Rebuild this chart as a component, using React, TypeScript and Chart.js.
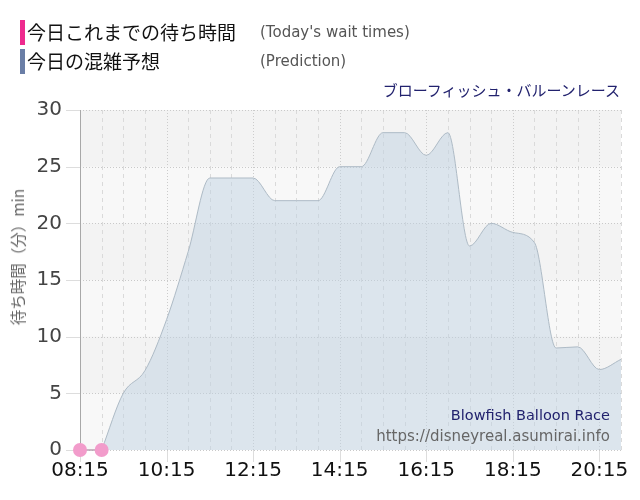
import React, { useEffect, useRef } from 'react';
import { Chart, registerables } from 'chart.js';

Chart.register(...registerables);

// time helpers: "HH:MM" -> minutes since midnight
const toMin = (t: string) => {
  const [h, m] = t.split(':').map(Number);
  return h * 60 + m;
};

const xStart = '08:15';
const xEnd = '20:45';
const xTickLabels = ['08:15', '10:15', '12:15', '14:15', '16:15', '18:15', '20:15'];
const yTicks = [0, 5, 10, 15, 20, 25, 30];

// today's actual wait times
const actualTimes = ['08:15', '08:45'];
const actualValues = [0, 0];

// prediction
const predictionTimes = [
  '08:45', '09:15', '09:45', '10:15', '10:45', '11:15', '11:45', '12:15', '12:45',
  '13:15', '13:45', '14:15', '14:45', '15:15', '15:45', '16:15', '16:45', '17:15',
  '17:45', '18:15', '18:45', '19:15', '19:45', '20:15', '20:45',
];
const predictionValues = [
  0, 5, 7, 11.5, 17.5, 24, 24, 24, 22,
  22, 22, 25, 25, 28, 28, 26, 28, 18,
  20, 19.2, 18.3, 9, 9.1, 7.1, 8,
];

const stripeBands = [[0, 5], [10, 15], [20, 25]];

const cjk = '"Noto Sans CJK JP", "Noto Sans", sans-serif';
const latin = '"DejaVu Sans", Verdana, sans-serif';

const backdropPlugin = {
  id: 'backdrop',
  beforeDatasetsDraw(chart: any) {
    const { ctx, chartArea: a, scales } = chart;
    const x = scales.x;
    const y = scales.y;
    ctx.save();
    ctx.fillStyle = '#f3f3f3';
    ctx.fillRect(a.left, a.top, a.width, a.height);
    ctx.fillStyle = '#f8f8f8';
    stripeBands.forEach(([lo, hi]) => {
      const y1 = y.getPixelForValue(hi);
      const y2 = y.getPixelForValue(lo);
      ctx.fillRect(a.left, y1, a.width, y2 - y1);
    });

    ctx.lineWidth = 1;
    const labelMins = xTickLabels.map(toMin);
    for (let m = toMin(xStart); m <= toMin(xEnd); m += 30) {
      const px = Math.round(x.getPixelForValue(m)) + 0.5;
      if (labelMins.includes(m)) {
        ctx.strokeStyle = '#cccccc';
        ctx.setLineDash([1, 2]);
        ctx.beginPath();
        ctx.moveTo(px, a.top);
        ctx.lineTo(px, a.bottom);
        ctx.stroke();
        ctx.setLineDash([]);
        ctx.strokeStyle = '#dddddd';
        ctx.beginPath();
        ctx.moveTo(px, a.bottom);
        ctx.lineTo(px, a.bottom + 12);
        ctx.stroke();
      } else if (m !== toMin(xStart)) {
        ctx.strokeStyle = '#dadada';
        ctx.setLineDash([4, 4]);
        ctx.beginPath();
        ctx.moveTo(px, a.top);
        ctx.lineTo(px, a.bottom);
        ctx.stroke();
      }
    }

    yTicks.forEach((v) => {
      const py = Math.round(y.getPixelForValue(v)) + 0.5;
      ctx.strokeStyle = '#c9c9c9';
      ctx.setLineDash([1, 2]);
      ctx.beginPath();
      ctx.moveTo(a.left, py);
      ctx.lineTo(a.right, py);
      ctx.stroke();
      ctx.setLineDash([]);
      ctx.strokeStyle = '#dddddd';
      ctx.beginPath();
      ctx.moveTo(a.left - 14, py);
      ctx.lineTo(a.left, py);
      ctx.stroke();
    });

    ctx.setLineDash([]);
    ctx.strokeStyle = '#a8a8a8';
    ctx.beginPath();
    ctx.moveTo(a.left + 0.5, a.top);
    ctx.lineTo(a.left + 0.5, a.bottom);
    ctx.stroke();
    ctx.restore();
  },
};

const App: React.FC = () => {
  const canvasRef = useRef<HTMLCanvasElement>(null);
  const chartRef = useRef<Chart | null>(null);

  useEffect(() => {
    if (!canvasRef.current) return;
    if (chartRef.current) chartRef.current.destroy();

    chartRef.current = new Chart(canvasRef.current, {
      type: 'line',
      data: {
        datasets: [
          {
            label: '今日これまでの待ち時間',
            data: actualTimes.map((t, i) => ({ x: toMin(t), y: actualValues[i] })),
            borderColor: '#b9a2b0',
            borderWidth: 1.5,
            pointRadius: 7,
            pointBackgroundColor: '#f29ccb',
            pointBorderWidth: 0,
            fill: false,
            clip: false,
          },
          {
            label: '今日の混雑予想',
            data: predictionTimes.map((t, i) => ({ x: toMin(t), y: predictionValues[i] })),
            borderColor: '#aebbc6',
            borderWidth: 1,
            backgroundColor: 'rgba(191, 209, 225, 0.5)',
            fill: 'origin',
            pointRadius: 0,
            cubicInterpolationMode: 'monotone',
          },
        ],
      },
      options: {
        responsive: false,
        animation: false,
        layout: { padding: { top: 110, right: 19, left: 0, bottom: 0 } },
        plugins: {
          legend: { display: false },
          tooltip: { enabled: false },
        },
        scales: {
          x: {
            type: 'linear',
            min: toMin(xStart),
            max: toMin(xEnd),
            grid: { display: false, drawTicks: false },
            border: { display: false },
            afterBuildTicks: (scale: any) => {
              scale.ticks = xTickLabels.map((t) => ({ value: toMin(t) }));
            },
            afterFit: (scale: any) => {
              scale.height = 50;
            },
            ticks: {
              autoSkip: false,
              maxRotation: 0,
              padding: 9,
              color: '#111111',
              font: { family: latin, size: 20 },
              callback: (v: any) => {
                const i = xTickLabels.findIndex((t) => toMin(t) === v);
                return i >= 0 ? xTickLabels[i] : '';
              },
            },
          },
          y: {
            min: 0,
            max: 30,
            grid: { display: false, drawTicks: false },
            border: { display: false },
            afterBuildTicks: (scale: any) => {
              scale.ticks = yTicks.map((v) => ({ value: v }));
            },
            afterFit: (scale: any) => {
              scale.width = 80;
            },
            ticks: {
              padding: 18,
              color: '#444444',
              font: { family: latin, size: 20 },
            },
          },
        },
      } as any,
      plugins: [backdropPlugin],
    });

    return () => {
      if (chartRef.current) {
        chartRef.current.destroy();
        chartRef.current = null;
      }
    };
  }, []);

  const abs = (style: React.CSSProperties): React.CSSProperties => ({ position: 'absolute', whiteSpace: 'nowrap', ...style });

  return (
    <div style={{ position: 'absolute', left: 0, top: 0, width: 640, height: 500, background: '#fff', overflow: 'hidden' }}>
      <canvas ref={canvasRef} width={640} height={500} style={{ position: 'absolute', left: 0, top: 0 }} aria-label="Blowfish Balloon Race wait times" />

      <div style={abs({ left: 20, top: 20, width: 5, height: 25, background: '#ee2a8e' })} />
      <div style={abs({ left: 27, top: 19, lineHeight: '26px', fontFamily: cjk, fontSize: 19, color: '#111' })}>今日これまでの待ち時間</div>
      <div style={abs({ left: 260, top: 19, lineHeight: '26px', fontFamily: latin, fontSize: 15, color: '#555' })}>(Today's wait times)</div>

      <div style={abs({ left: 20, top: 49, width: 5, height: 25, background: '#6a7ea6' })} />
      <div style={abs({ left: 27, top: 48, lineHeight: '26px', fontFamily: cjk, fontSize: 19, color: '#111' })}>今日の混雑予想</div>
      <div style={abs({ left: 260, top: 48, lineHeight: '26px', fontFamily: latin, fontSize: 15, color: '#555' })}>(Prediction)</div>

      <div style={abs({ right: 20, top: 79, lineHeight: '22px', fontFamily: cjk, fontSize: 15, color: '#22226e' })}>ブローフィッシュ・バルーンレース</div>

      <div style={abs({ right: 30, top: 404, lineHeight: '22px', fontFamily: latin, fontSize: 14.5, color: '#22226e' })}>Blowfish Balloon Race</div>
      <div style={abs({ right: 30, top: 425, lineHeight: '22px', fontFamily: latin, fontSize: 15, color: '#666' })}>https://disneyreal.asumirai.info</div>

      <div
        style={abs({
          left: 17,
          top: 257,
          transform: 'translate(-50%, -50%) rotate(-90deg)',
          fontFamily: cjk,
          fontSize: 15.5,
          color: '#666',
        })}
      >
        待ち時間（分）min
      </div>
    </div>
  );
};

export default App;
